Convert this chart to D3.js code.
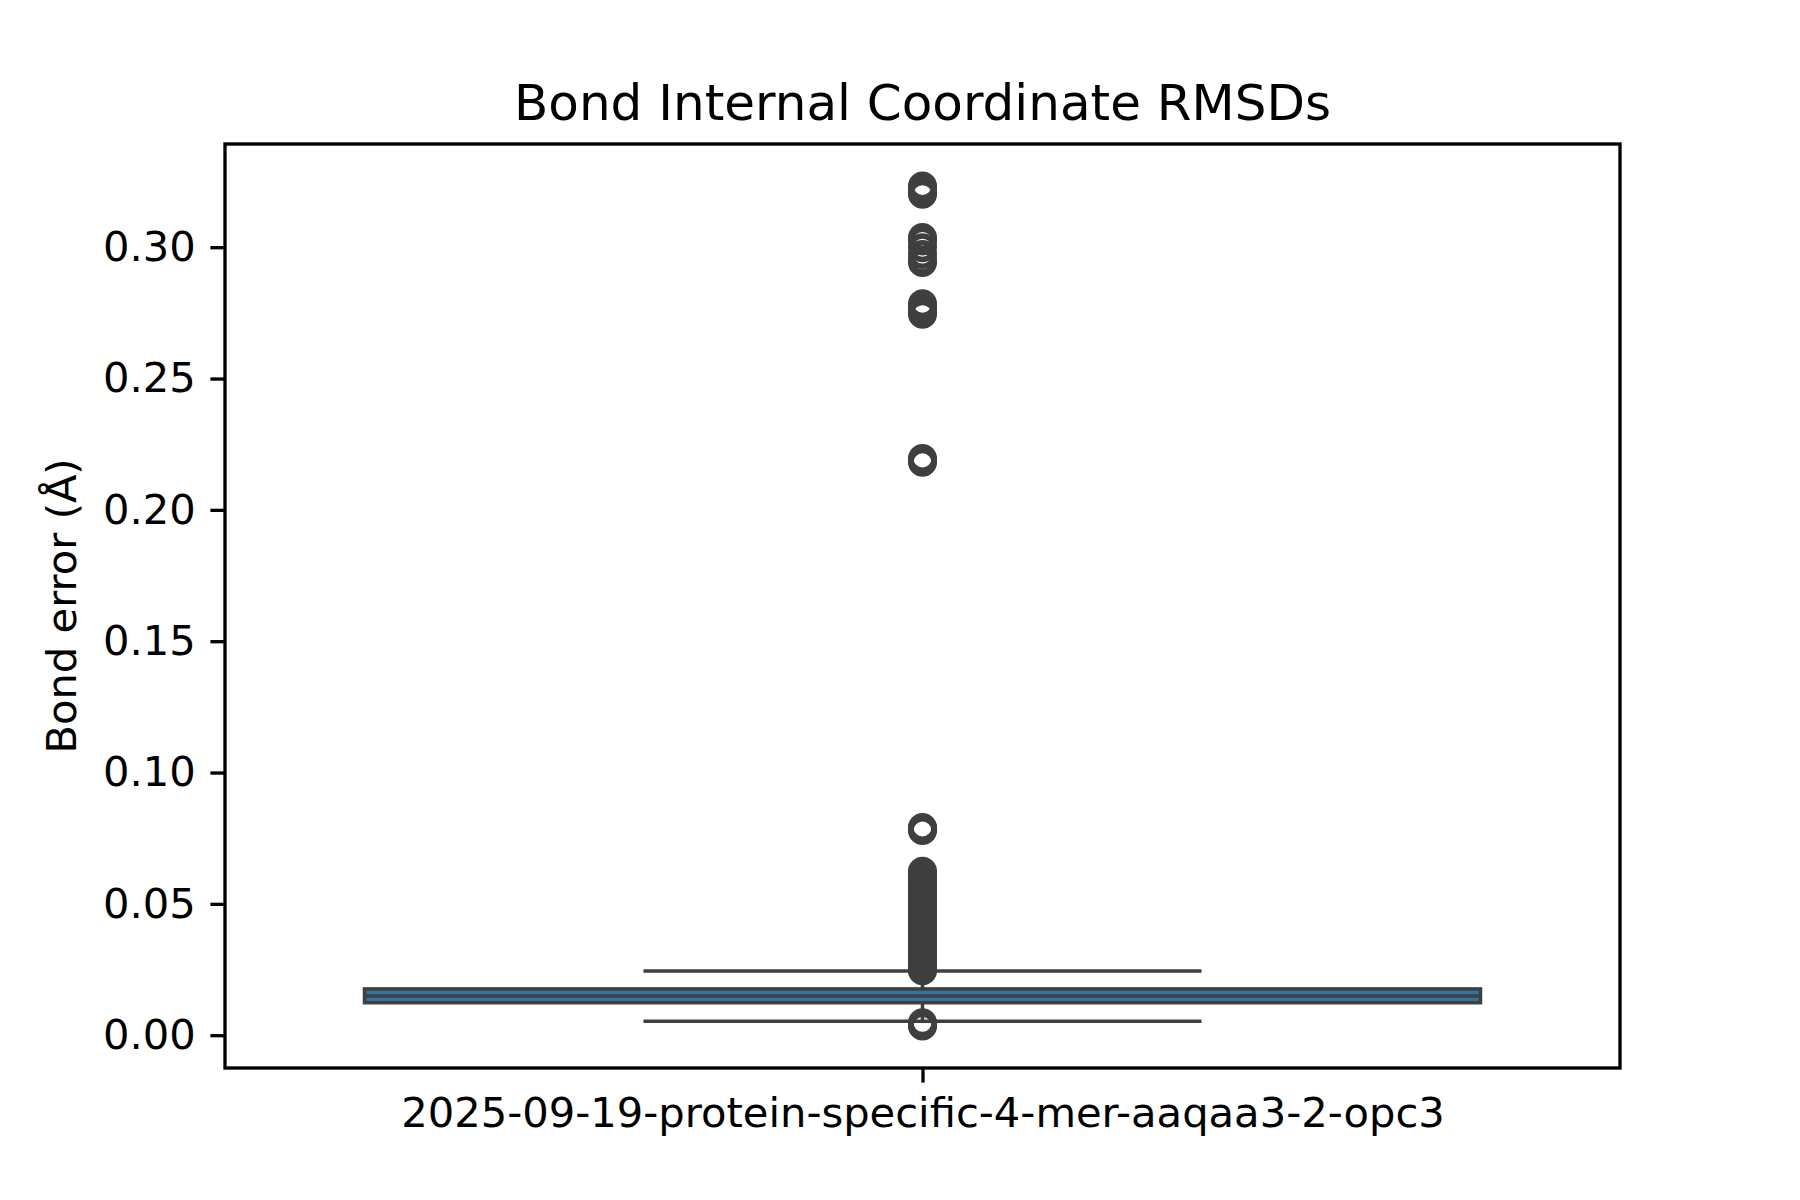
<!DOCTYPE html>
<html>
<head>
<meta charset="utf-8">
<script src="https://cdn.jsdelivr.net/npm/d3@7"></script>
<style>
body{margin:0;background:#fff;}
svg text{font-family:"DejaVu Sans",sans-serif;fill:#000;}
</style>
</head>
<body>
<div id="chart"></div>
<script>
var width = 1800, height = 1200;
var margin = {left:225, right:180, top:144, bottom:132};
// data
var categories = ["2025-09-19-protein-specific-4-mer-aaqaa3-2-opc3"];
var q1 = [0.01236];
var median = [0.01491];
var q3 = [0.01762];
var whiskerLow = [0.0053];
var whiskerHigh = [0.0244];
var outliers = [
	0.0035,0.0040,0.0044,0.0047,
	0.0245,0.0252,0.0258,0.0266,0.0271,0.0279,0.0286,0.0292,0.0301,0.0308,0.0313,0.0322,0.0329,0.0336,
	0.0344,0.0351,0.0357,0.0366,0.0372,0.0380,0.0387,0.0393,0.0402,0.0409,0.0415,0.0423,0.0430,0.0438,
	0.0445,0.0451,0.0459,0.0466,0.0474,0.0480,0.0488,0.0495,0.0503,0.0510,0.0517,0.0524,0.0532,0.0539,
	0.0546,0.0553,0.0561,0.0568,0.0575,0.0583,0.0590,0.0598,0.0604,0.0611,0.0617,0.0624,
	0.0779,0.0783,0.0787,0.0791,
	0.2181,0.2188,0.2196,
	0.2745,0.2758,0.2772,0.2785,
	0.2942,0.2950,0.2972,0.2998,0.3024,0.3037,
	0.3202,0.3209,0.3226,0.3233
];
var yTicks = [0,0.05,0.10,0.15,0.20,0.25,0.30];
var boxColor = "#3274a1", lineColor = "#3f3f3f";

var svg = d3.select("#chart").append("svg")
	.attr("width",width)
	.attr("height",height);

var plotW = width - margin.left - margin.right;
var plotH = height - margin.top - margin.bottom;

// scales
var lo = d3.min([d3.min(outliers), whiskerLow[0]]);
var hi = d3.max([d3.max(outliers), whiskerHigh[0]]);
var pad = (hi - lo) * 0.05;
var y = d3.scaleLinear().domain([lo - pad, hi + pad]).range([margin.top + plotH, margin.top]);
var x = d3.scaleLinear().domain([-0.5, 0.5]).range([margin.left, margin.left + plotW]);

// boxes
var lw = 3.5;
for(var i=0; i<categories.length; i++){
	var g = svg.append("g");
	// whiskers
	g.append("line")
		.attr("x1",x(i)).attr("x2",x(i))
		.attr("y1",y(q3[i])).attr("y2",y(whiskerHigh[i]))
		.attr("stroke",lineColor).attr("stroke-width",lw);
	g.append("line")
		.attr("x1",x(i)).attr("x2",x(i))
		.attr("y1",y(q1[i])).attr("y2",y(whiskerLow[i]))
		.attr("stroke",lineColor).attr("stroke-width",lw);
	g.append("line")
		.attr("x1",x(i-0.2)).attr("x2",x(i+0.2))
		.attr("y1",y(whiskerHigh[i])).attr("y2",y(whiskerHigh[i]))
		.attr("stroke",lineColor).attr("stroke-width",lw);
	g.append("line")
		.attr("x1",x(i-0.2)).attr("x2",x(i+0.2))
		.attr("y1",y(whiskerLow[i])).attr("y2",y(whiskerLow[i]))
		.attr("stroke",lineColor).attr("stroke-width",lw);
	// box
	g.append("rect")
		.attr("x",x(i-0.4))
		.attr("y",y(q3[i]))
		.attr("width",x(i+0.4)-x(i-0.4))
		.attr("height",y(q1[i])-y(q3[i]))
		.attr("fill",boxColor)
		.attr("stroke",lineColor)
		.attr("stroke-width",lw);
	g.append("line")
		.attr("x1",x(i-0.4)).attr("x2",x(i+0.4))
		.attr("y1",y(median[i])).attr("y2",y(median[i]))
		.attr("stroke",lineColor).attr("stroke-width",lw);
	// fliers
	g.selectAll("circle.flier").data(outliers).enter().append("circle")
		.attr("class","flier")
		.attr("cx",x(i))
		.attr("cy",function(d){ return y(d); })
		.attr("r",11.75)
		.attr("fill","none")
		.attr("stroke",lineColor)
		.attr("stroke-width",5.5);
}

// axes
var yAxis = svg.append("g")
	.attr("transform","translate("+margin.left+",0)")
	.call(d3.axisLeft(y).tickValues(yTicks).tickFormat(d3.format(".2f")).tickSize(14.6).tickPadding(14.6));
var xAxis = svg.append("g")
	.attr("transform","translate(0,"+(margin.top+plotH)+")")
	.call(d3.axisBottom(x).tickValues([0]).tickFormat(function(d){ return categories[d]; }).tickSize(14.6).tickPadding(14.6));
[yAxis, xAxis].forEach(function(a){
	a.select(".domain").remove();
	a.selectAll(".tick line").attr("stroke","#000").attr("stroke-width",3.33);
	a.selectAll(".tick text").attr("font-size","41.67px").attr("font-family","DejaVu Sans").attr("fill","#000");
});

// frame
svg.append("rect")
	.attr("x",margin.left)
	.attr("y",margin.top)
	.attr("width",plotW)
	.attr("height",plotH)
	.attr("fill","none")
	.attr("stroke","#000")
	.attr("stroke-width",3.33);

// title
svg.append("text")
	.text("Bond Internal Coordinate RMSDs")
	.attr("x",margin.left+plotW/2)
	.attr("y",120)
	.attr("text-anchor","middle")
	.attr("font-size","50px");

// y label
svg.append("text")
	.text("Bond error (Å)")
	.attr("transform","translate(76,"+(margin.top+plotH/2)+") rotate(-90)")
	.attr("text-anchor","middle")
	.attr("font-size","41.67px");
</script>
</body>
</html>
